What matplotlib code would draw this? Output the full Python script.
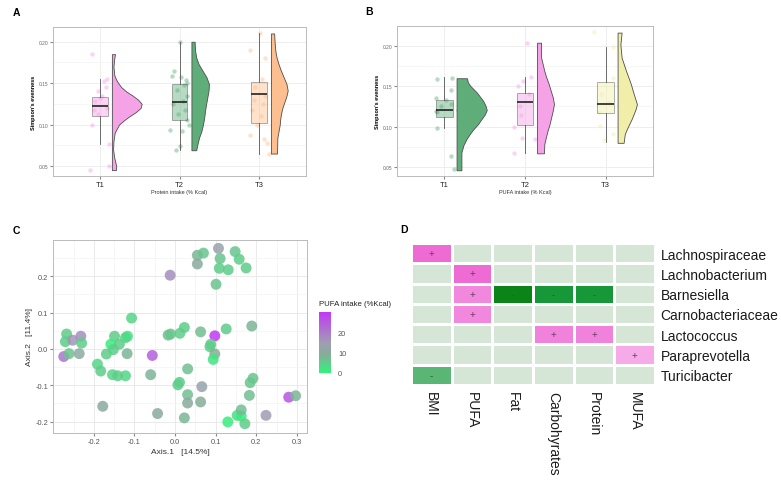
import numpy as np
import matplotlib.pyplot as plt
from matplotlib.colors import LinearSegmentedColormap, Normalize

plt.rcParams['font.family'] = ['Liberation Sans', 'DejaVu Sans']

W, H = 781, 481

# ---------------- panel A / B data (raincloud) ----------------
groups = ["T1", "T2", "T3"]

# box stats: whisker low, q1, median, q3, whisker high
prot_box = [[0.076, 0.110, 0.123, 0.133, 0.155],
            [0.069, 0.106, 0.127, 0.149, 0.200],
            [0.065, 0.102, 0.137, 0.151, 0.210]]
pufa_box = [[0.098, 0.112, 0.121, 0.133, 0.162],
            [0.067, 0.102, 0.130, 0.142, 0.162],
            [0.081, 0.117, 0.128, 0.155, 0.199]]

# violin outlines (level, half-width in category units)
prot_T1_y = [0.045, 0.05, 0.06, 0.07, 0.08, 0.09, 0.10, 0.105, 0.11, 0.115, 0.12, 0.125, 0.13, 0.135, 0.14, 0.145, 0.15, 0.155, 0.16, 0.17, 0.18, 0.185]
prot_T1_w = [0.05, 0.055, 0.03, 0.015, 0.02, 0.035, 0.09, 0.15, 0.22, 0.30, 0.36, 0.375, 0.33, 0.26, 0.18, 0.12, 0.08, 0.05, 0.03, 0.02, 0.03, 0.04]
prot_T2_y = [0.069, 0.076, 0.084, 0.092, 0.100, 0.108, 0.116, 0.125, 0.133, 0.141, 0.149, 0.157, 0.165, 0.173, 0.181, 0.190, 0.200]
prot_T2_w = [0.06, 0.075, 0.095, 0.125, 0.145, 0.16, 0.17, 0.185, 0.20, 0.215, 0.22, 0.19, 0.14, 0.09, 0.06, 0.045, 0.04]
prot_T3_y = [0.065, 0.075, 0.084, 0.092, 0.100, 0.106, 0.1125, 0.119, 0.125, 0.133, 0.141, 0.149, 0.157, 0.165, 0.173, 0.181, 0.189, 0.200, 0.210]
prot_T3_w = [0.075, 0.078, 0.08, 0.095, 0.11, 0.115, 0.125, 0.14, 0.16, 0.19, 0.21, 0.195, 0.16, 0.125, 0.095, 0.07, 0.055, 0.045, 0.04]

pufa_T1_y = [0.046, 0.056, 0.068, 0.077, 0.085, 0.091, 0.097, 0.103, 0.1095, 0.115, 0.1206, 0.126, 0.132, 0.1425, 0.1506, 0.155, 0.160]
pufa_T1_w = [0.06, 0.06, 0.06, 0.085, 0.125, 0.165, 0.21, 0.265, 0.31, 0.35, 0.375, 0.36, 0.33, 0.25, 0.17, 0.14, 0.13]
pufa_T2_y = [0.067, 0.0786, 0.087, 0.095, 0.103, 0.1116, 0.12, 0.128, 0.1363, 0.1445, 0.1527, 0.161, 0.169, 0.1857, 0.204]
pufa_T2_w = [0.085, 0.09, 0.11, 0.13, 0.155, 0.175, 0.195, 0.21, 0.195, 0.17, 0.145, 0.115, 0.09, 0.05, 0.05]
pufa_T3_y = [0.080, 0.091, 0.097, 0.1033, 0.1095, 0.1157, 0.122, 0.128, 0.136, 0.144, 0.1527, 0.161, 0.169, 0.1857, 0.202, 0.2165]
pufa_T3_w = [0.075, 0.09, 0.115, 0.145, 0.175, 0.20, 0.225, 0.24, 0.215, 0.19, 0.165, 0.135, 0.105, 0.05, 0.035, 0.05]

# jittered raw points
prot_T1_pts = [0.185, 0.155, 0.152, 0.145, 0.140, 0.135, 0.132, 0.128, 0.120, 0.118, 0.113, 0.100, 0.076, 0.050, 0.045]
prot_T1_jit = [-0.10, 0.09, 0.05, 0.08, -0.02, 0.02, 0.00, -0.06, 0.09, -0.08, -0.03, -0.10, 0.12, 0.11, -0.12]
prot_T2_pts = [0.200, 0.165, 0.159, 0.157, 0.154, 0.150, 0.148, 0.142, 0.135, 0.128, 0.125, 0.118, 0.113, 0.106, 0.100, 0.093, 0.092, 0.074, 0.069]
prot_T2_jit = [0.01, -0.07, -0.10, 0.02, 0.08, 0.10, 0.06, -0.03, 0.09, 0.05, -0.08, 0.07, -0.02, 0.10, 0.12, -0.12, 0.03, 0.00, -0.05]
prot_T3_pts = [0.210, 0.190, 0.180, 0.155, 0.145, 0.135, 0.130, 0.125, 0.118, 0.110, 0.100, 0.088, 0.083, 0.078, 0.065]
prot_T3_jit = [0.01, -0.12, 0.07, 0.04, -0.05, 0.08, -0.06, 0.05, -0.09, 0.02, -0.03, -0.12, 0.06, 0.10, 0.12]

pufa_T1_pts = [0.160, 0.159, 0.146, 0.136, 0.133, 0.128, 0.125, 0.121, 0.120, 0.118, 0.098, 0.064, 0.047]
pufa_T1_jit = [0.09, -0.09, 0.08, -0.10, 0.02, 0.08, -0.04, 0.17, -0.11, -0.09, -0.09, 0.08, 0.12]
pufa_T2_pts = [0.204, 0.162, 0.157, 0.150, 0.140, 0.125, 0.115, 0.099, 0.086, 0.085, 0.067]
pufa_T2_jit = [0.02, 0.08, -0.02, -0.09, 0.05, -0.06, -0.05, -0.14, -0.04, 0.13, -0.14]
pufa_T3_pts = [0.217, 0.199, 0.160, 0.140, 0.130, 0.118, 0.101, 0.091, 0.084]
pufa_T3_jit = [-0.14, 0.09, 0.09, -0.05, 0.04, -0.08, -0.07, 0.09, -0.02]

prot_colors = ["#f5a3e6", "#5fae7a", "#fdbf8f"]
pufa_colors = ["#5fae7a", "#f5a3e6", "#f1eeaa"]

# ---------------- panel C data (PCoA) ----------------
pc_axis1 = [0.055, 0.070, 0.055, 0.107, 0.111, 0.109, 0.148, 0.158, 0.131, 0.175,
            0.101, -0.012, -0.107, -0.267, -0.270, -0.252, -0.232, -0.230, -0.274, -0.261,
            -0.236, -0.149, -0.158, -0.152, -0.137, -0.169, -0.122, -0.117, -0.118, -0.191,
            -0.183, -0.154, -0.141, -0.122, -0.178, -0.056, -0.060, -0.043, -0.017, -0.011,
            0.012, 0.023, 0.063, 0.098, 0.126, 0.189, 0.088, 0.086, 0.098, 0.094,
            0.031, 0.011, 0.007, 0.031, 0.066, 0.031, 0.063, 0.023, 0.130, 0.153,
            0.163, 0.163, 0.172, 0.183, 0.185, 0.192, 0.224, 0.280, 0.297]
pc_axis2 = [0.258, 0.264, 0.234, 0.277, 0.249, 0.222, 0.268, 0.247, 0.218, 0.223,
            0.178, 0.203, 0.085, 0.041, 0.020, 0.024, 0.035, 0.016, -0.021, -0.013,
            -0.013, 0.035, 0.013, -0.002, 0.013, -0.014, 0.031, 0.035, -0.013, -0.042,
            -0.061, -0.071, -0.074, -0.074, -0.158, -0.018, -0.071, -0.178, 0.038, 0.041,
            0.043, 0.059, 0.047, 0.036, 0.055, 0.063, 0.013, 0.006, -0.014, -0.029,
            -0.055, -0.092, -0.099, -0.126, -0.104, -0.149, -0.146, -0.190, -0.201, -0.183,
            -0.185, -0.168, -0.206, -0.128, -0.093, -0.081, -0.183, -0.133, -0.129]
pc_pufa = [8, 6, 10, 13, 6, 5, 6, 5, 5, 5,
           6, 17, 4, 5, 5, 16, 17, 5, 21, 6,
           11, 5, 1, 5, 5, 5, 4, 3, 8, 4,
           5, 4, 5, 4, 10, 24, 8, 10, 7, 6,
           5, 5, 7, 30, 5, 8, 5, 5, 9, 2,
           7, 5, 5, 7, 13, 10, 9, 8, 1, 3,
           1, 7, 5, 7, 6, 6, 15, 26, 8]

# ---------------- panel D data (heatmap) ----------------
taxa = ["Lachnospiraceae", "Lachnobacterium", "Barnesiella", "Carnobacteriaceae",
        "Lactococcus", "Paraprevotella", "Turicibacter"]
variables = ["BMI", "PUFA", "Fat", "Carbohyrates", "Protein", "MUFA"]
corr = [[0.45, 0, 0, 0, 0, 0],
        [0, 0.45, 0, 0, 0, 0],
        [0, 0.36, -0.50, -0.43, -0.43, 0],
        [0, 0.36, 0, 0, 0, 0],
        [0, 0, 0, 0.38, 0.38, 0],
        [0, 0, 0, 0, 0, 0.25],
        [-0.30, 0, 0, 0, 0, 0]]

fig = plt.figure(figsize=(W / 100, H / 100), dpi=100)


def px_axes(x0, y0, x1, y1):
    return fig.add_axes([x0 / W, 1 - y1 / H, (x1 - x0) / W, (y1 - y0) / H])


def raincloud(ax, boxes, profiles, points, colors, xlabel, ylim):
    for i in range(3):
        pos = i + 1
        lv, wd = profiles[i]
        lv = np.array(lv)
        wd = np.array(wd)
        ax.fill_betweenx(lv, pos + 0.15, pos + 0.15 + wd, facecolor=colors[i],
                         edgecolor="#4d4d4d", lw=0.6, zorder=3)
        pts, jit = points[i]
        ax.scatter(pos + np.array(jit), pts, s=10, color=colors[i], alpha=0.45,
                   lw=0, zorder=2)
        lo, q1, med, q3, hi = boxes[i]
        st = [{"whislo": lo, "q1": q1, "med": med, "q3": q3, "whishi": hi, "fliers": []}]
        ax.bxp(st, positions=[pos], widths=0.2, patch_artist=True, showcaps=False,
               boxprops=dict(facecolor=colors[i], alpha=0.45, edgecolor="#333333", lw=0.6),
               whiskerprops=dict(color="#555555", lw=0.6),
               medianprops=dict(color="#222222", lw=1.2), zorder=4)
    ax.set_xlim(0.41, 3.59)
    ax.set_ylim(*ylim)
    ax.set_xticks([1, 2, 3])
    ax.set_xticklabels(groups)
    ax.set_yticks([0.05, 0.10, 0.15, 0.20])
    ax.set_yticks([0.075, 0.125, 0.175], minor=True)
    ax.tick_params(axis="x", labelsize=5.5, colors="#888888", labelcolor="#222222", length=2, pad=1.5)
    ax.tick_params(axis="y", labelsize=3.5, colors="#888888", labelcolor="#666666", length=2, pad=1)
    ax.tick_params(axis="y", which="minor", length=0)
    ax.grid(True, which="major", color="#ebebeb", lw=0.6, zorder=0)
    ax.grid(True, which="minor", axis="y", color="#f3f3f3", lw=0.5, zorder=0)
    ax.set_axisbelow(True)
    for s in ax.spines.values():
        s.set_color("#bbbbbb")
        s.set_linewidth(0.7)
    ax.set_xlabel(xlabel, fontsize=4, color="#333333", labelpad=1)
    ax.set_ylabel("Simpson's evenness", fontsize=4, fontweight="bold", labelpad=2)


axA = px_axes(53, 28, 306, 177)
raincloud(axA, prot_box,
          [(prot_T1_y, prot_T1_w), (prot_T2_y, prot_T2_w), (prot_T3_y, prot_T3_w)],
          [(prot_T1_pts, prot_T1_jit), (prot_T2_pts, prot_T2_jit), (prot_T3_pts, prot_T3_jit)],
          prot_colors, "Protein intake (% Kcal)", (0.0379, 0.2178))

axB = px_axes(397, 27, 653, 177)
raincloud(axB, pufa_box,
          [(pufa_T1_y, pufa_T1_w), (pufa_T2_y, pufa_T2_w), (pufa_T3_y, pufa_T3_w)],
          [(pufa_T1_pts, pufa_T1_jit), (pufa_T2_pts, pufa_T2_jit), (pufa_T3_pts, pufa_T3_jit)],
          pufa_colors, "PUFA intake (% Kcal)", (0.0389, 0.2247))

# ---------------- panel C ----------------
axC = px_axes(53, 241, 307, 434)
pcmap = LinearSegmentedColormap.from_list(
    "pufa", [(0, "#2ef57a"), (0.3, "#86ad98"), (0.5, "#a09cb4"), (1, "#c238f5")])
sc = axC.scatter(pc_axis1, pc_axis2, c=pc_pufa, cmap=pcmap, vmin=0, vmax=30,
                 s=62, alpha=0.85, lw=0, zorder=3)
axC.set_xlim(-0.3005, 0.325)
axC.set_ylim(-0.2316, 0.300)
axC.set_xticks([-0.2, -0.1, 0.0, 0.1, 0.2, 0.3])
axC.set_xticklabels(["-0.2", "-0.1", "0.0", "0.1", "0.2", "0.3"])
axC.set_xticks([-0.25, -0.15, -0.05, 0.05, 0.15, 0.25], minor=True)
axC.set_yticks([-0.2, -0.1, 0.0, 0.1, 0.2])
axC.set_yticklabels(["-0.2", "-0.1", "0.0", "0.1", "0.2"])
axC.set_yticks([-0.15, -0.05, 0.05, 0.15, 0.25], minor=True)
axC.tick_params(labelsize=5.3, colors="#888888", labelcolor="#555555", length=2, pad=1.5)
axC.tick_params(which="minor", length=0)
axC.grid(True, which="major", color="#e6e6e6", lw=0.6)
axC.grid(True, which="minor", color="#f3f3f3", lw=0.5)
axC.set_axisbelow(True)
for s in axC.spines.values():
    s.set_color("#bbbbbb")
    s.set_linewidth(0.7)
axC.set_xlabel("Axis.1   [14.5%]", fontsize=6, color="#333333", labelpad=2)
axC.set_ylabel("Axis.2   [11.4%]", fontsize=6, color="#333333", labelpad=2)

cax = px_axes(319, 313, 331, 374)
cb = fig.colorbar(sc, cax=cax)
cb.solids.set_alpha(1)
cb.outline.set_visible(False)
cb.set_ticks([0, 10, 20])
cax.tick_params(labelsize=5.3, length=2, color="white", labelcolor="#555555", pad=3)
fig.text(319 / W, 1 - 305 / H, "PUFA intake (%Kcal)", fontsize=5.6, color="#222222",
         va="center")

# ---------------- panel D ----------------
axD = px_axes(411, 244, 655, 386)
hcmap = LinearSegmentedColormap.from_list(
    "corr", [(0, "#0a8416"), (0.07, "#18993a"), (0.2, "#5ab674"), (0.5, "#d6e6d6"),
             (0.75, "#f6ace8"), (1, "#ec5ccf")])
cm = np.array(corr)
axD.pcolormesh(np.arange(len(variables) + 1), np.arange(len(taxa) + 1), cm,
               cmap=hcmap, norm=Normalize(-0.5, 0.5), edgecolors="white", lw=1)
for r in range(len(taxa)):
    for c in range(len(variables)):
        if cm[r, c] > 0:
            axD.text(c + 0.5, r + 0.5, "+", ha="center", va="center", fontsize=7,
                     color="#6a3f60")
        elif cm[r, c] < 0:
            axD.text(c + 0.5, r + 0.5, "-", ha="center", va="center", fontsize=7,
                     color="#2f5a35")
axD.set_xlim(0, len(variables))
axD.set_ylim(len(taxa), 0)
axD.set_xticks(np.arange(len(variables)) + 0.5)
axD.set_xticklabels(variables, rotation=-90, fontsize=10, color="#1a1a1a")
axD.set_yticks(np.arange(len(taxa)) + 0.5)
axD.set_yticklabels(taxa, fontsize=10, color="#1a1a1a")
axD.yaxis.tick_right()
axD.tick_params(length=0, pad=4)
for s in axD.spines.values():
    s.set_visible(False)

# panel letters
for lab, x, y in [("A", 13, 13), ("B", 365, 12), ("C", 13, 231), ("D", 400, 230)]:
    fig.text(x / W, 1 - y / H, lab, fontsize=7.5, fontweight="bold", va="center")

fig.savefig("out.png", dpi=100)
